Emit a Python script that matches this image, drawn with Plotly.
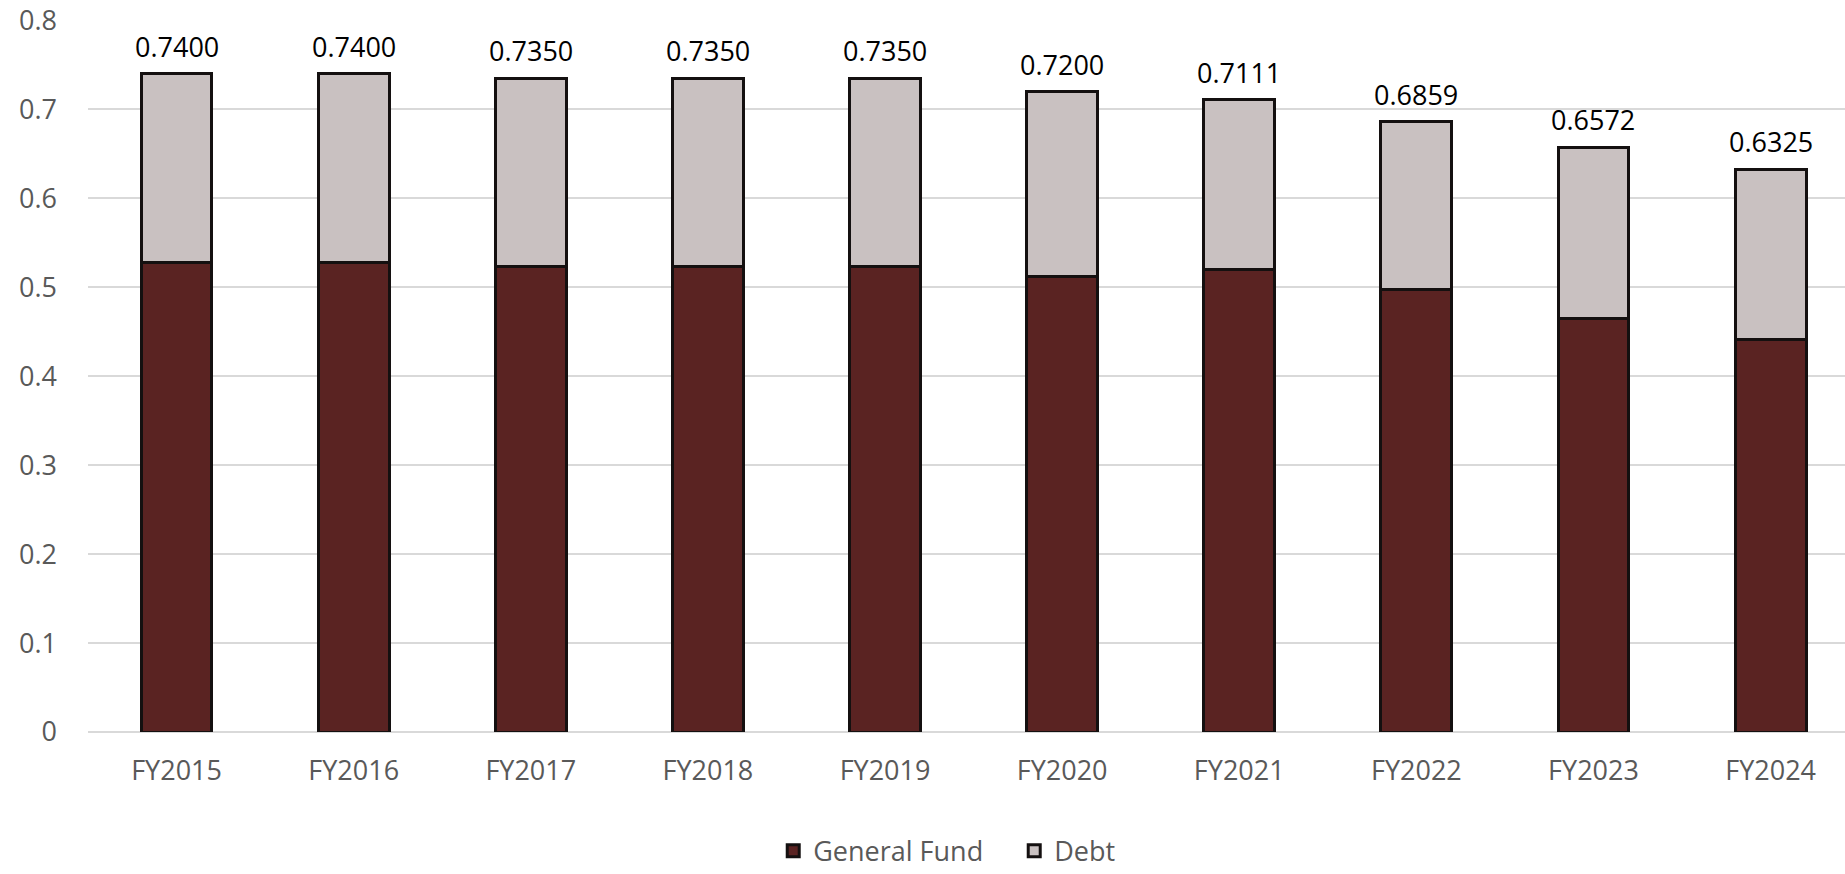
import plotly.graph_objects as go

categories = ["FY2015", "FY2016", "FY2017", "FY2018", "FY2019",
              "FY2020", "FY2021", "FY2022", "FY2023", "FY2024"]
general_fund = [0.528, 0.528, 0.523, 0.523, 0.523, 0.512, 0.5197, 0.497, 0.465, 0.441]
totals = [0.7400, 0.7400, 0.7350, 0.7350, 0.7350, 0.7200, 0.7111, 0.6859, 0.6572, 0.6325]
debt = [round(t - g, 4) for t, g in zip(totals, general_fund)]
total_labels = [f"{t:.4f}" for t in totals]

FONT = "Open Sans"
SIZE = 27
fig = go.Figure()
fig.add_trace(go.Bar(
    x=categories, y=general_fund, name="General Fund",
    marker=dict(color="#5a2322", line=dict(color="#141010", width=3)),
    width=0.4,
))
fig.add_trace(go.Bar(
    x=categories, y=debt, name="Debt",
    marker=dict(color="#c9c1c1", line=dict(color="#141010", width=3)),
    width=0.4,
))

for c, t, lab in zip(categories, totals, total_labels):
    fig.add_annotation(x=c, y=t, text=lab, showarrow=False,
                       yanchor="bottom", yshift=7,
                       font=dict(family=FONT, size=SIZE, color="#000000"))

fig.update_layout(
    barmode="stack",
    width=1845, height=874,
    margin=dict(l=88, r=0, t=20, b=142),
    paper_bgcolor="white", plot_bgcolor="white",
    font=dict(family=FONT, size=SIZE, color="#595959"),
    showlegend=True,
    legend=dict(orientation="h", xref="paper", x=0.39, xanchor="left",
                yref="container", y=0.026, yanchor="middle",
                entrywidth=196, entrywidthmode="pixels",
                font=dict(family=FONT, size=SIZE, color="#595959"),
                traceorder="normal"),
    xaxis=dict(range=[-0.5, 9.42], showgrid=False, zeroline=False, showline=False,
               ticks="", ticklabelstandoff=20, automargin=False,
               tickfont=dict(family=FONT, size=SIZE, color="#595959")),
    yaxis=dict(range=[0, 0.8005], tickvals=[0, 0.1, 0.2, 0.3, 0.4, 0.5, 0.6, 0.7, 0.8],
               ticktext=["0", "0.1", "0.2", "0.3", "0.4", "0.5", "0.6", "0.7", "0.8"],
               showgrid=True, automargin=False,
               gridcolor="#d9d9d9", gridwidth=1.5, zeroline=True,
               zerolinecolor="#d9d9d9", zerolinewidth=1.5, showline=False,
               ticks="", ticklabelstandoff=30,
               tickfont=dict(family=FONT, size=SIZE, color="#595959")),
)

fig.write_html("out.html", config={"displayModeBar": False},
               post_script="document.body.style.margin='0px';")
